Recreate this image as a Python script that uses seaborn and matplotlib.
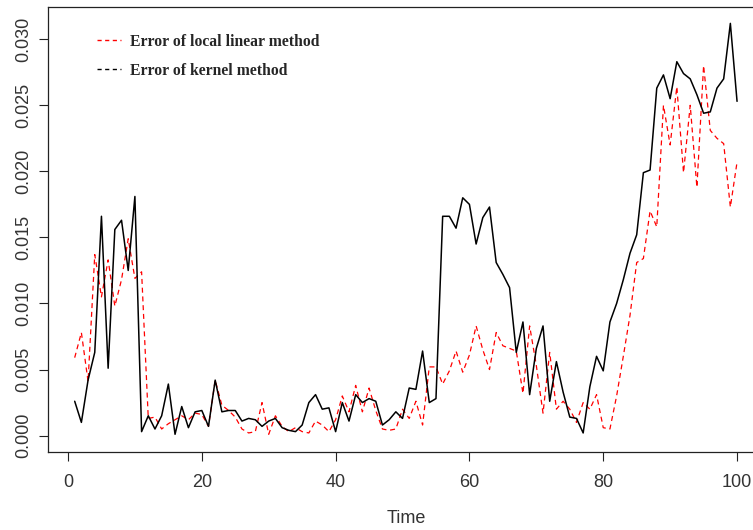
import numpy as np
import pandas as pd
import matplotlib
matplotlib.use("Agg")
import matplotlib.pyplot as plt
from matplotlib.lines import Line2D
import seaborn as sns

time = list(range(1, 101))
kernel_err = [0.0026, 0.0010, 0.0042, 0.0063, 0.0166, 0.0051, 0.0156, 0.0163, 0.0125, 0.0181,
              0.0003, 0.0015, 0.0005, 0.0015, 0.0039, 0.0001, 0.0022, 0.0006, 0.0018, 0.0019,
              0.0007, 0.0042, 0.0018, 0.0019, 0.0019, 0.0011, 0.0013, 0.0012, 0.0007, 0.0011,
              0.0013, 0.0006, 0.0004, 0.0003, 0.0008, 0.0025, 0.0031, 0.0020, 0.0021, 0.0003,
              0.0025, 0.0011, 0.0031, 0.0025, 0.0028, 0.0026, 0.0008, 0.0012, 0.0018, 0.0013,
              0.0036, 0.0035, 0.0064, 0.0025, 0.0028, 0.0166, 0.0166, 0.0157, 0.0180, 0.0175,
              0.0145, 0.0165, 0.0173, 0.0131, 0.0122, 0.0112, 0.0063, 0.0086, 0.0031, 0.0066,
              0.0083, 0.0026, 0.0056, 0.0033, 0.0014, 0.0013, 0.0002, 0.0037, 0.0060, 0.0049,
              0.0086, 0.0100, 0.0118, 0.0138, 0.0152, 0.0199, 0.0201, 0.0263, 0.0273, 0.0255,
              0.0283, 0.0274, 0.0270, 0.0258, 0.0244, 0.0245, 0.0263, 0.0270, 0.0312, 0.0253]
local_linear_err = [0.0059, 0.0078, 0.0041, 0.0137, 0.0105, 0.0133, 0.0098, 0.0118, 0.0149, 0.0119,
                    0.0124, 0.0013, 0.0014, 0.0005, 0.0009, 0.0012, 0.0015, 0.0012, 0.0017, 0.0016,
                    0.0007, 0.0042, 0.0023, 0.0019, 0.0014, 0.0005, 0.0002, 0.0003, 0.0025, 0.0001,
                    0.0015, 0.0007, 0.0003, 0.0006, 0.0003, 0.0002, 0.0011, 0.0008, 0.0003, 0.0012,
                    0.0030, 0.0018, 0.0038, 0.0018, 0.0036, 0.0019, 0.0005, 0.0004, 0.0005, 0.0020,
                    0.0013, 0.0026, 0.0008, 0.0052, 0.0052, 0.0039, 0.0049, 0.0064, 0.0048, 0.0061,
                    0.0083, 0.0065, 0.0050, 0.0078, 0.0068, 0.0066, 0.0064, 0.0032, 0.0083, 0.0053,
                    0.0017, 0.0063, 0.0020, 0.0026, 0.0020, 0.0010, 0.0025, 0.0020, 0.0031, 0.0006,
                    0.0005, 0.0030, 0.0060, 0.0091, 0.0131, 0.0134, 0.0170, 0.0158, 0.0250, 0.0220,
                    0.0264, 0.0199, 0.0250, 0.0188, 0.0280, 0.0231, 0.0225, 0.0221, 0.0173, 0.0207]
legend_labels = ["Error of local linear method", "Error of kernel method"]
x_ticks = [0, 20, 40, 60, 80, 100]
y_ticks = [0.000, 0.005, 0.010, 0.015, 0.020, 0.025, 0.030]

sns.set_theme(style="ticks")
tick_font = ["Liberation Sans Narrow", "Liberation Sans", "DejaVu Sans"]
plt.rcParams["font.family"] = tick_font

df = pd.DataFrame({"Time": time, "kernel": kernel_err, "local": local_linear_err})

fig = plt.figure(figsize=(7.53, 5.30), dpi=100)
ax = fig.add_axes([0.064, 0.1472, 0.950, 0.8396])

sns.lineplot(data=df, x="Time", y="local", ax=ax, color="#ff0000", linewidth=0.9,
             dashes=False, linestyle=(0, (4, 3)))
sns.lineplot(data=df, x="Time", y="kernel", ax=ax, color="black", linewidth=1.1)

ax.set_xlim(-2.96, 103.96)
ax.set_ylim(-0.00124, 0.03244)
ax.set_xticks(x_ticks)
ax.set_yticks(y_ticks)
ax.set_xticklabels([str(v) for v in x_ticks])
ax.set_yticklabels([f"{v:.3f}" for v in y_ticks], rotation=90, va="center")
ax.tick_params(axis="both", direction="out", length=6.5, width=0.8, color="#222222",
               labelsize=13, labelcolor="#333333")
ax.tick_params(axis="x", pad=9)
ax.tick_params(axis="y", pad=5)
ax.set_xlabel("Time", fontsize=13, color="#333333", labelpad=14)
ax.set_ylabel("")
for s in ax.spines.values():
    s.set_color("#222222")
    s.set_linewidth(0.9)

handles = [Line2D([0], [0], color="#ff0000", lw=1.0, linestyle=(0, (3, 2.5))),
           Line2D([0], [0], color="black", lw=1.0, linestyle=(0, (3, 2.5)))]
leg = ax.legend(handles, legend_labels, loc="upper left", bbox_to_anchor=(0.068, 0.940),
                frameon=False, handlelength=1.55, handletextpad=0.57, labelspacing=0.83,
                borderpad=0, borderaxespad=0,
                prop={"family": ["Liberation Serif", "DejaVu Serif"], "weight": "bold", "size": 11.3})

fig.savefig("out.png", dpi=100)
